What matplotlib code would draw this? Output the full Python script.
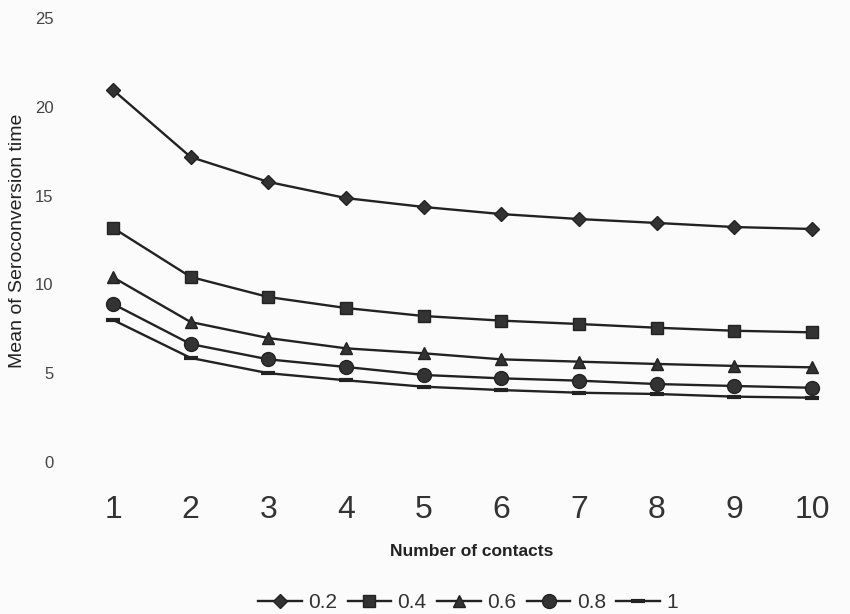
import numpy as np
import matplotlib
matplotlib.use('Agg')
import matplotlib.pyplot as plt

plt.rcParams['font.family'] = ['Liberation Sans', 'DejaVu Sans']

# ============================================================================
# Data
# ============================================================================
contacts = [1, 2, 3, 4, 5, 6, 7, 8, 9, 10]
series_labels = ['0.2', '0.4', '0.6', '0.8', '1']
mean_02 = [20.95, 17.17, 15.77, 14.86, 14.36, 13.96, 13.68, 13.46, 13.23, 13.12]
mean_04 = [13.18, 10.42, 9.29, 8.67, 8.22, 7.96, 7.77, 7.56, 7.39, 7.30]
mean_06 = [10.40, 7.88, 6.98, 6.40, 6.12, 5.78, 5.65, 5.52, 5.41, 5.33]
mean_08 = [8.90, 6.64, 5.78, 5.35, 4.90, 4.71, 4.58, 4.39, 4.28, 4.18]
mean_10 = [8.00, 5.86, 5.00, 4.60, 4.24, 4.05, 3.90, 3.83, 3.68, 3.62]
y_ticks = [0, 5, 10, 15, 20, 25]

all_series = [mean_02, mean_04, mean_06, mean_08, mean_10]
markers = ['D', 's', '^', 'o', '_']
msizes = [7, 9, 9, 10, 10]

W, H = 850, 614
fig = plt.figure(figsize=(W / 100, H / 100), dpi=100, facecolor='#fbfbfb')
ax = fig.add_axes([70 / W, (H - 462) / H, 775 / W, 444 / H])
ax.set_facecolor('#fbfbfb')

for vals, lab, mk, ms in zip(all_series, series_labels, markers, msizes):
    ax.plot(contacts, vals, color='#222222', linewidth=1.7, marker=mk,
            markersize=ms, markeredgewidth=3 if mk == '_' else 1,
            markeredgecolor='#222222', markerfacecolor='#333333', label=lab)

ax.set_xlim(0.446, 10.425)
ax.set_ylim(0, 25)
ax.set_xticks(contacts)
ax.set_yticks(y_ticks)
ax.tick_params(axis='x', length=0, pad=24, labelsize=23, labelcolor='#333333')
ax.tick_params(axis='y', length=0, pad=12, labelsize=12, labelcolor='#444444')
for s in ax.spines.values():
    s.set_visible(False)

fig.text(472 / W, (H - 552) / H, 'Number of contacts', ha='center', va='center',
         fontsize=12.5, fontweight='bold', color='#222222')
fig.text(18 / W, (H - 241) / H, 'Mean of Seroconversion time', ha='center',
         va='center', rotation=90, fontsize=14, color='#222222')

fig.legend(loc='center', bbox_to_anchor=(468 / W, (H - 603) / H), ncol=5,
           frameon=False, fontsize=15, handlelength=2.1, handletextpad=0.3,
           columnspacing=0.5, labelcolor='#333333')

fig.savefig('out.png', dpi=100, facecolor=fig.get_facecolor())
plt.close(fig)
